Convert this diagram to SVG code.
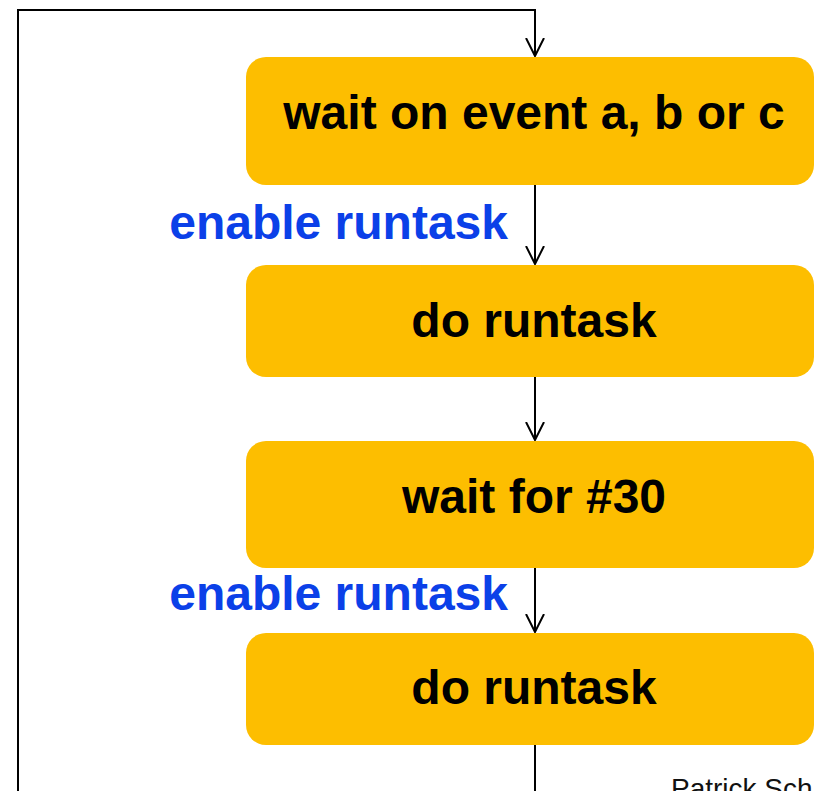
<svg xmlns="http://www.w3.org/2000/svg" width="814" height="791" viewBox="0 0 814 791">
  <style>
    .box { fill: #fdbe00; }
    .lbl { font-family: "Liberation Sans", Arial, sans-serif; font-weight: bold; font-size: 48px; fill: #000; text-anchor: middle; }
    .cond { font-family: "Liberation Sans", Arial, sans-serif; font-weight: bold; font-size: 48px; fill: #0b40e8; text-anchor: end; }
    .wire { fill: none; stroke: #000; stroke-width: 2; }
    .foot { font-family: "Liberation Sans", Arial, sans-serif; font-size: 28px; fill: #111; }
  </style>
  <defs>
    <marker id="arrow" viewBox="0 0 20 20" refX="18" refY="10" markerWidth="20" markerHeight="20" markerUnits="userSpaceOnUse" orient="auto">
      <path d="M0,1 L18,10 L0,19" fill="none" stroke="#000" stroke-width="2"/>
    </marker>
  </defs>

  <rect width="814" height="791" fill="#fff"/>

  <g id="connectors">
    <path class="wire" d="M535,791 L535,745"/>
    <path class="wire" d="M18,791 L18,10 L535,10 L535,56" marker-end="url(#arrow)"/>
    <path class="wire" d="M535,185 L535,264" marker-end="url(#arrow)"/>
    <path class="wire" d="M535,377 L535,440" marker-end="url(#arrow)"/>
    <path class="wire" d="M535,568 L535,632" marker-end="url(#arrow)"/>
  </g>

  <g id="wait-event">
    <rect class="box" x="246" y="57" width="568" height="128" rx="20"/>
    <text class="lbl" x="534" y="129">wait on event a, b or c</text>
  </g>
  <g id="enable-1">
    <text class="cond" x="508" y="239">enable runtask</text>
  </g>
  <g id="runtask-1">
    <rect class="box" x="246" y="265" width="568" height="112" rx="20"/>
    <text class="lbl" x="534" y="337">do runtask</text>
  </g>
  <g id="wait-delay">
    <rect class="box" x="246" y="441" width="568" height="127" rx="20"/>
    <text class="lbl" x="534" y="513">wait for #30</text>
  </g>
  <g id="enable-2">
    <text class="cond" x="508" y="610">enable runtask</text>
  </g>
  <g id="runtask-2">
    <rect class="box" x="246" y="633" width="568" height="112" rx="20"/>
    <text class="lbl" x="534" y="704">do runtask</text>
  </g>

  <text class="foot" x="671" y="798">Patrick Sch</text>
</svg>
